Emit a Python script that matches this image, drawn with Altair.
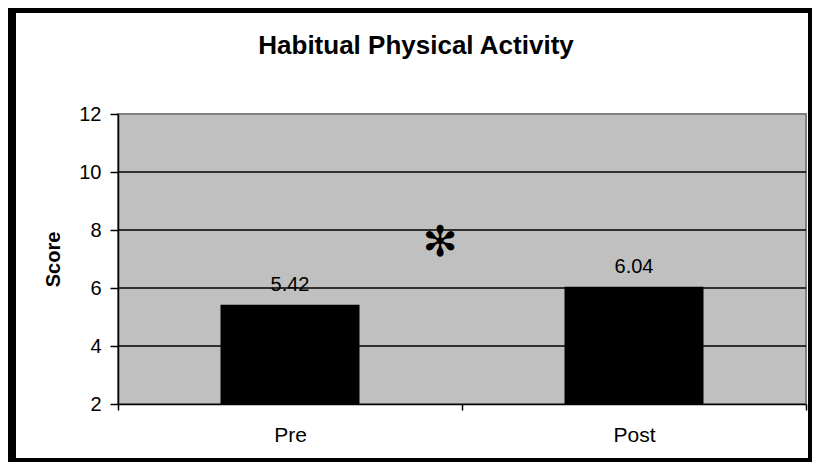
import altair as alt
import pandas as pd

categories = ["Pre", "Post"]
scores = [5.42, 6.04]
labels = ["5.42", "6.04"]
grid_values = [4, 6, 8, 10]
y_ticks = [2, 4, 6, 8, 10, 12]
star_category = ["Pre"]
star_y = [7.55]
star_text = ["\u273B"]

FONT = "Liberation Sans"

bars_df = pd.DataFrame({"cat": categories, "score": scores, "label": labels})
grid_df = pd.DataFrame({"g": grid_values})
star_df = pd.DataFrame({"cat": star_category, "y": star_y, "t": star_text})

x_enc = alt.X(
    "cat:N",
    sort=categories,
    scale=alt.Scale(paddingInner=0, paddingOuter=0),
    axis=alt.Axis(
        title=None,
        labelAngle=0,
        tickBand="extent",
        tickSize=6,
        tickColor="black",
        tickWidth=1.5,
        domainColor="black",
        domainWidth=1.5,
        labelFontSize=21,
        labelFont=FONT,
        labelColor="black",
        labelPadding=14,
    ),
)
y_scale = alt.Scale(domain=[2, 12], nice=False, zero=False)

bars = alt.Chart(bars_df).mark_bar(color="black", size=139).encode(
    x=x_enc,
    y=alt.Y(
        "score:Q",
        scale=y_scale,
        axis=alt.Axis(
            values=y_ticks,
            grid=False,
            title="Score",
            titleFontSize=20,
            titleFont=FONT,
            titleFontWeight="bold",
            titleColor="black",
            titlePadding=15,
            labelFontSize=20,
            labelFont=FONT,
            labelColor="black",
            labelPadding=9,
            tickSize=8,
            tickColor="black",
            tickWidth=1.5,
            domainColor="black",
            domainWidth=1.5,
        ),
    ),
    y2=alt.datum(2),
)

grid = alt.Chart(grid_df).mark_rule(color="black", strokeWidth=1.5).encode(
    y=alt.Y("g:Q", scale=y_scale)
)

bar_text = alt.Chart(bars_df).mark_text(
    baseline="alphabetic", dy=-14, fontSize=20, font=FONT, color="black"
).encode(
    x=alt.X("cat:N", sort=categories),
    y=alt.Y("score:Q", scale=y_scale),
    text="label:N",
)

star = alt.Chart(star_df).mark_text(
    fontSize=42, font="DejaVu Sans", color="black", baseline="middle"
).encode(
    x=alt.X("cat:N", sort=categories, bandPosition=0.936),
    y=alt.Y("y:Q", scale=y_scale),
    text="t:N",
)

frame_data = alt.Data(values=[{}])
frame_parts = [
    (-111, -102, -110, 352),
    (-111, 696, -110, -101),
    (690, 696, -110, 352),
    (-111, 696, 344, 352),
]
frames = [
    alt.Chart(frame_data).mark_rect(color="black").encode(
        x=alt.value(a), x2=alt.value(b), y=alt.value(c), y2=alt.value(d)
    )
    for a, b, c, d in frame_parts
]

chart = alt.layer(grid, bars, bar_text, star, *frames).properties(
    width=688,
    height=290,
    padding={"left": 110, "top": 106, "right": 6, "bottom": 58},
    autosize=alt.AutoSizeParams(type="none"),
    background="white",
    title=alt.TitleParams(
        "Habitual Physical Activity",
        fontSize=26,
        font=FONT,
        fontWeight="bold",
        color="black",
        anchor="middle",
        frame="group",
        baseline="alphabetic",
        dx=-46,
        offset=-76,
    ),
).configure_view(
    fill="#C0C0C0", stroke="#808080", strokeWidth=2
)

chart.save("out.html", embed_options={"renderer": "svg", "actions": False})
